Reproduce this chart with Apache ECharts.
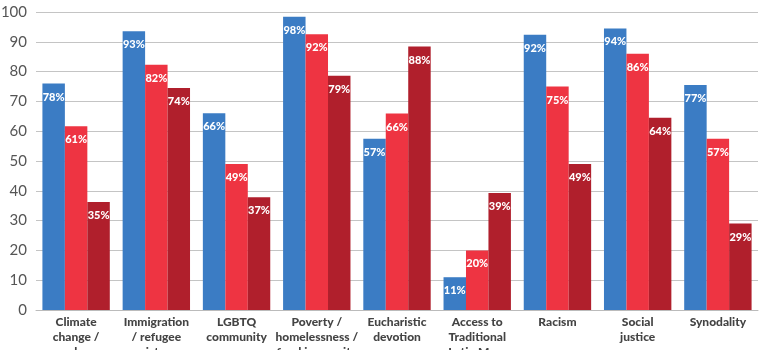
<!DOCTYPE html>
<html>
<head>
<meta charset="utf-8">
<script src="https://cdn.jsdelivr.net/npm/echarts@6/dist/echarts.min.js"></script>
<style>
  html, body { margin: 0; padding: 0; background: #fff; }
  #chart { width: 763px; height: 350px; }
</style>
</head>
<body>
<div id="chart"></div>
<script>
var categories = ['Climate\nchange /\necology', 'Immigration\n/ refugee\nassistance', 'LGBTQ\ncommunity',
    'Poverty /\nhomelessness /\nfood insecurity', 'Eucharistic\ndevotion', 'Access to\nTraditional\nLatin Mass',
    'Racism', 'Social\njustice', 'Synodality'];
// bar heights as drawn in the picture
var blueValues = [76, 93.5, 66, 98.4, 57.5, 11, 92.4, 94.5, 75.5];
var redValues = [61.7, 82.3, 49, 92.5, 65.9, 20, 75, 86, 57.5];
var darkValues = [36.2, 74.5, 37.8, 78.6, 88.4, 39.3, 49, 64.5, 29];
// printed labels
var blueLabels = ['78%', '93%', '66%', '98%', '57%', '11%', '92%', '94%', '77%'];
var redLabels = ['61%', '82%', '49%', '92%', '66%', '20%', '75%', '86%', '57%'];
var darkLabels = ['35%', '74%', '37%', '79%', '88%', '39%', '49%', '64%', '29%'];
var yTicks = [0, 100, 10];

var chart = echarts.init(document.getElementById('chart'));

function makeSeries(values, labels, color) {
    return {
        type: 'bar',
        data: values,
        barGap: '0%',
        barCategoryGap: '16%',
        itemStyle: { color: color },
        label: {
            show: true,
            position: 'insideTop',
            distance: 8,
            color: '#fff',
            fontFamily: 'Lato',
            fontWeight: 900,
            fontSize: 11,
            formatter: function (p) { return labels[p.dataIndex]; }
        }
    };
}

chart.setOption({
    animation: false,
    grid: { left: 36, right: 5, top: 12, bottom: 40, containLabel: false, outerBoundsMode: 'none' },
    xAxis: {
        type: 'category',
        data: categories,
        axisTick: { show: false },
        axisLine: { lineStyle: { color: '#bbb', width: 1 } },
        axisLabel: {
            interval: 0,
            color: '#444',
            fontFamily: 'Lato',
            fontWeight: 900,
            fontSize: 12,
            lineHeight: 15,
            margin: 5
        }
    },
    yAxis: {
        type: 'value',
        min: yTicks[0],
        max: yTicks[1],
        interval: yTicks[2],
        axisLabel: { color: '#555', fontFamily: 'Lato', fontSize: 15, margin: 9 },
        splitLine: { lineStyle: { color: '#c4c4c4', width: 1 } },
        axisLine: { show: false },
        axisTick: { show: false }
    },
    series: [
        makeSeries(blueValues, blueLabels, '#3b7cc4'),
        makeSeries(redValues, redLabels, '#ee3442'),
        makeSeries(darkValues, darkLabels, '#b01f2c')
    ]
});
</script>
</body>
</html>
